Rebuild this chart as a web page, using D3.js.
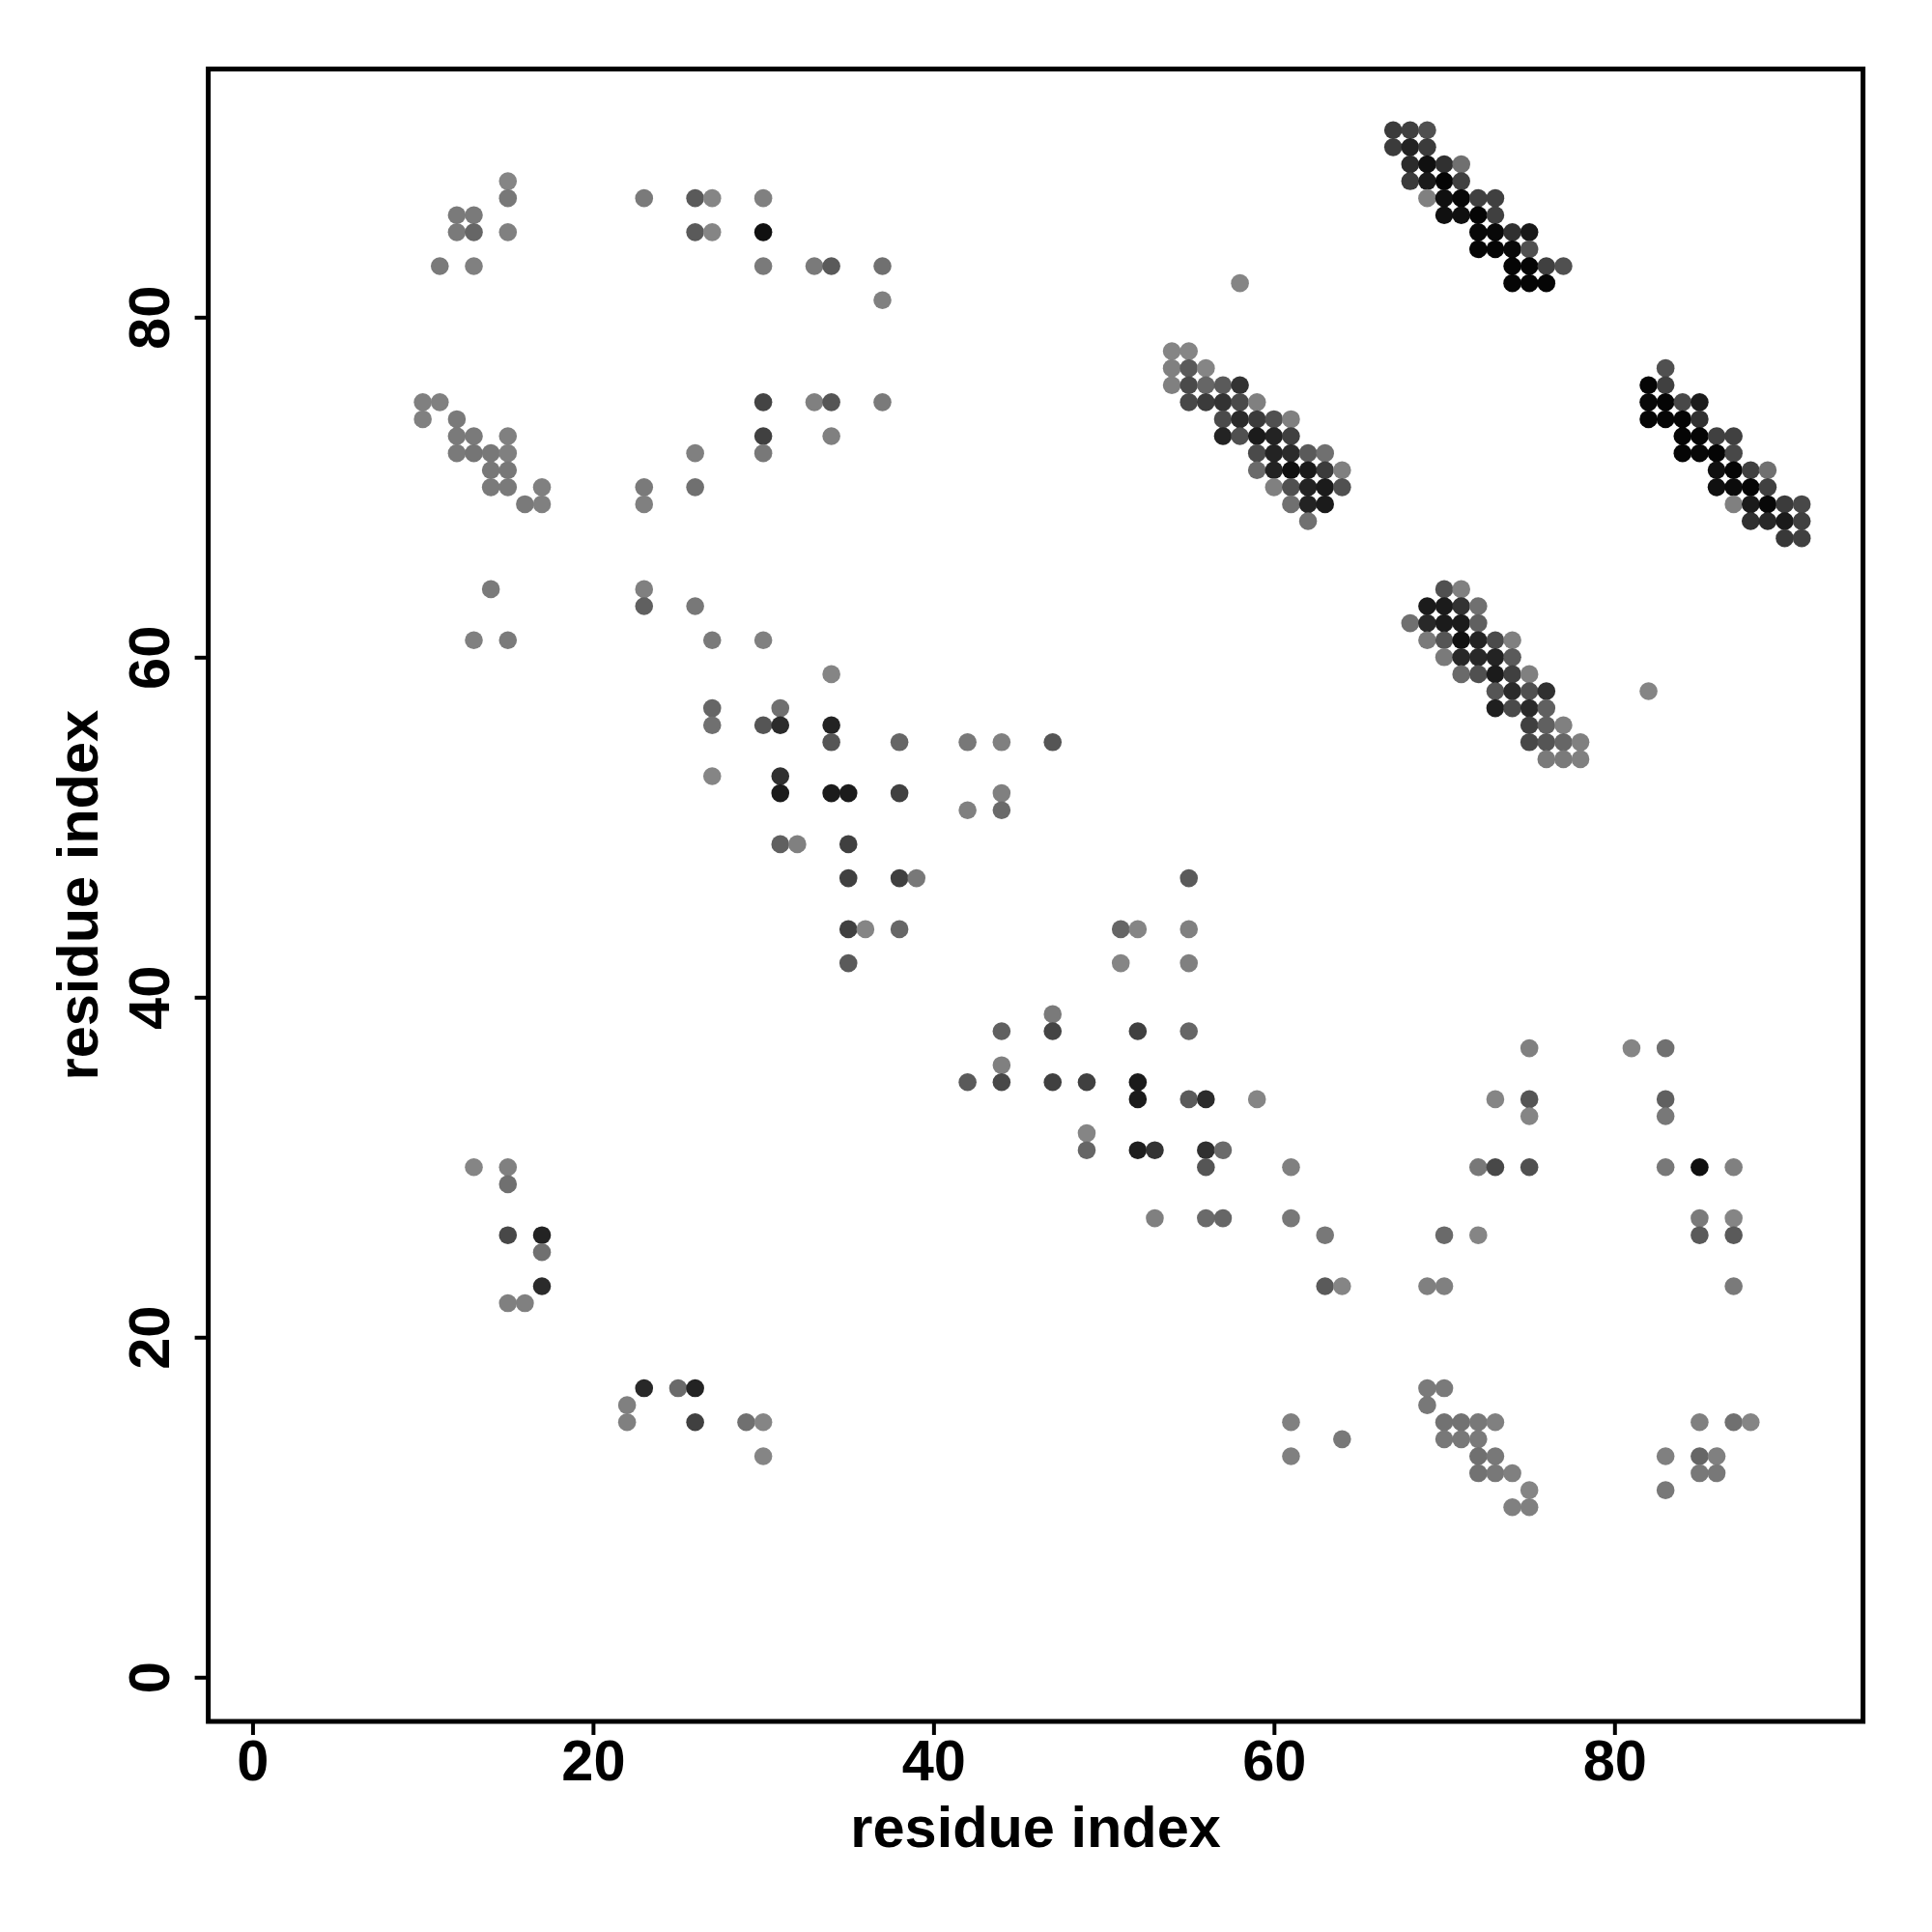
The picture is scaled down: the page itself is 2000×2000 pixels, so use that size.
<!DOCTYPE html>
<html><head><meta charset="utf-8">
<script src="https://cdn.jsdelivr.net/npm/d3@7"></script>
<style>body{margin:0;background:#fff} svg{display:block}</style>
</head><body>
<svg id="chart" width="2000" height="2000"></svg>
<script>
// ---- data: [residue i, residue j, contact strength 0..1] ----
const tickValues = [0, 20, 40, 60, 80];
const xTitle = "residue index";
const yTitle = "residue index";

const topLeftContacts = [
  [15,88,0],[15,87,0.10],[12,86,0.08],[13,86,0.08],[12,85,0.08],[13,85,0.23],[15,85,0.04],[11,83,0.08],[13,83,0.04],
  [23,87,0.08],[26,87,0.32],[27,87,0],[30,87,0.04],[26,85,0.32],[27,85,0],[30,85,0.88],[30,83,0.08],[33,83,0.08],[34,83,0.32],[37,83,0.16],[37,81,0.04],
  [10,75,0.04],[11,75,0.04],[10,74,0.04],[12,74,0.08],[12,73,0.08],[13,73,0.08],[15,73,0.04],[12,72,0.08],[13,72,0.12],[14,72,0.10],[15,72,0.04],
  [14,71,0.10],[15,71,0.10],[14,70,0.08],[15,70,0.08],[17,70,0.04],[16,69,0.08],[17,69,0.04],
  [23,70,0.08],[23,69,0.04],[26,70,0.16],[26,72,0.04],[30,75,0.49],[33,75,0.04],[34,75,0.36],[30,73,0.52],[34,73,0.04],[30,72,0.10],[37,75,0.08],
  [14,64,0.08],[23,64,0.04],[23,63,0.28],[26,63,0.10],[13,61,0.04],[15,61,0.08],[27,61,0.08],[30,61,0.04]
];

const middleContacts = [
  [34,59,0],[27,57,0.23],[27,56,0.16],[31,57,0.16],[30,56,0.36],[31,56,0.68],[34,56,0.74],[34,55,0.36],[27,53,0],[31,53,0.64],[31,52,0.80],
  [34,52,0.80],[35,52,0.80],[38,55,0.23],[42,55,0.10],[44,55,0.04],[47,55,0.36],[38,52,0.52],[44,52,0.04],[42,51,0.04],[44,51,0.20],
  [31,49,0.28],[32,49,0.04],[35,49,0.52],[35,47,0.52],[38,47,0.52],[39,47,0.10],[35,44,0.52],[36,44,0],[38,44,0.23],[35,42,0.32],
  [55,47,0.32],[51,44,0.23],[52,44,0],[55,44,0.04],[51,42,0],[55,42,0.04],
  [47,39,0.08],[44,38,0.28],[47,38,0.49],[52,38,0.52],[55,38,0.23],[44,36,0.04],[42,35,0.32],[44,35,0.46],[47,35,0.52],[49,35,0.52],
  [52,35,0.80],[52,34,0.80],[55,34,0.32],[56,34,0.68],[59,34,0],[49,32,0],[49,31,0.23],[52,31,0.77],[53,31,0.62],[56,31,0.64],[57,31,0.20],
  [56,30,0.36],[61,30,0.04],[53,27,0.04],[56,27,0.20],[57,27,0.23],[61,27,0.10],[63,26,0.10],[63,23,0.32],[64,23,0]
];

const bottomLeftContacts = [
  [13,30,0],[15,30,0.04],[15,29,0.16],[15,26,0.46],[17,26,0.74],[17,25,0.16],[17,23,0.68],[15,22,0.04],[16,22,0.04],
  [23,17,0.70],[25,17,0.20],[26,17,0.74],[22,16,0.04],[22,15,0.04],[26,15,0.52],[29,15,0.16],[30,15,0],[30,13,0]
];

const bottomRightContacts = [
  [61,15,0.04],[61,13,0.04],[64,14,0.10],[69,17,0.08],[70,17,0.08],[69,16,0.10],[70,15,0.14],[71,15,0.14],[72,15,0.10],[73,15,0.04],
  [70,14,0.10],[71,14,0.10],[72,14,0.08],[72,13,0.16],[73,13,0.10],[72,12,0.14],[73,12,0.10],[74,12,0.04],[75,11,0],[74,10,0.04],[75,10,0.04],
  [83,13,0.04],[85,13,0.23],[86,13,0.04],[85,12,0.10],[86,12,0.10],[83,11,0.10],[85,15,0.04],[87,15,0.16],[88,15,0]
];

const rightMiddleContacts = [
  [70,26,0.20],[72,26,0],[69,23,0.04],[70,23,0.04],[85,27,0.08],[87,27,0],[85,26,0.32],[87,26,0.32],[87,23,0.08],
  [75,37,0.04],[81,37,0],[83,37,0.16],[73,34,0],[75,34,0.36],[75,33,0],[83,34,0.28],[83,33,0.10],
  [72,30,0.10],[73,30,0.46],[75,30,0.40],[83,30,0.10],[85,30,0.88],[87,30,0.04],[58,82,0],[82,58,0]
];

const strandPairA = [
  [54,78,0],[55,78,0],[54,77,0.04],[55,77,0.32],[56,77,0],
  [54,76,0.04],[55,76,0.44],[56,76,0.23],[57,76,0.32],[58,76,0.62],
  [55,75,0.46],[56,75,0.56],[57,75,0.62],[58,75,0.44],[59,75,0.04],
  [57,74,0.44],[58,74,0.68],[59,74,0.56],[60,74,0.40],[61,74,0.04],
  [57,73,0.74],[58,73,0.40],[59,73,0.80],[60,73,0.74],[61,73,0.52],
  [59,72,0.44],[60,72,0.74],[61,72,0.68],[62,72,0.32],[63,72,0.16],
  [59,71,0.20],[60,71,0.74],[61,71,0.88],[62,71,0.80],[63,71,0.56],[64,71,0.04],
  [60,70,0.04],[61,70,0.40],[62,70,0.74],[63,70,0.80],[64,70,0.40],
  [61,69,0.16],[62,69,0.74],[63,69,0.80],[62,68,0.16]
];

const strandPairB = [
  [67,91,0.56],[68,91,0.52],[69,91,0.40],
  [67,90,0.56],[68,90,0.74],[69,90,0.56],
  [68,89,0.68],[69,89,0.88],[70,89,0.64],[71,89,0.16],
  [68,88,0.56],[69,88,0.80],[70,88,0.96],[71,88,0.52],
  [69,87,0.04],[70,87,0.88],[71,87,0.94],[72,87,0.52],[73,87,0.52],
  [70,86,0.88],[71,86,0.88],[72,86,0.96],[73,86,0.52],
  [72,85,0.94],[73,85,0.94],[74,85,0.64],[75,85,0.82],
  [72,84,0.96],[73,84,0.96],[74,84,0.94],[75,84,0.40],
  [74,83,0.96],[75,83,0.96],[76,83,0.52],[77,83,0.40],
  [74,82,0.96],[75,82,0.96],[76,82,0.96]
];

const strandPairC = [
  [83,77,0.40],[82,76,0.96],[83,76,0.52],
  [82,75,0.94],[83,75,0.96],[84,75,0.46],[85,75,0.80],
  [82,74,0.96],[83,74,0.96],[84,74,0.96],[85,74,0.64],
  [84,73,0.96],[85,73,0.96],[86,73,0.52],[87,73,0.52],
  [84,72,0.96],[85,72,0.94],[86,72,0.96],[87,72,0.46],
  [86,71,0.88],[87,71,0.96],[88,71,0.52],[89,71,0.16],
  [86,70,0.88],[87,70,0.92],[88,70,0.96],[89,70,0.52],
  [87,69,0.04],[88,69,0.80],[89,69,0.94],[90,69,0.56],[91,69,0.46],
  [88,68,0.64],[89,68,0.70],[90,68,0.80],[91,68,0.52],
  [90,67,0.58],[91,67,0.52]
];

const strandPairD = [
  [70,64,0.40],[71,64,0.04],
  [69,63,0.80],[70,63,0.80],[71,63,0.62],[72,63,0.16],
  [68,62,0.16],[69,62,0.70],[70,62,0.80],[71,62,0.80],[72,62,0.28],
  [69,61,0.08],[70,61,0.36],[71,61,0.88],[72,61,0.74],[73,61,0.44],[74,61,0.04],
  [70,60,0.08],[71,60,0.70],[72,60,0.70],[73,60,0.74],[74,60,0.32],
  [71,59,0.20],[72,59,0.40],[73,59,0.80],[74,59,0.52],[75,59,0.04],
  [73,58,0.36],[74,58,0.68],[75,58,0.40],[76,58,0.64],
  [73,57,0.77],[74,57,0.44],[75,57,0.68],[76,57,0.28],
  [75,56,0.52],[76,56,0.28],[77,56,0.04],
  [75,55,0.46],[76,55,0.36],[77,55,0.23],[78,55,0.04],
  [76,54,0.08],[77,54,0.08],[78,54,0.04]
];

// ---- drawing ----
const contacts = [].concat(topLeftContacts, middleContacts, bottomLeftContacts, bottomRightContacts,
  rightMiddleContacts, strandPairA, strandPairB, strandPairC, strandPairD)
  .map(([i, j, s]) => ({i, j, s}));

const plot = {left: 215.6, right: 1928.6, top: 71.4, bottom: 1782};
const svg = d3.select("#chart");
svg.append("rect").attr("width", 2000).attr("height", 2000).attr("fill", "#fff");

const x = d3.scaleLinear().domain([-2.6, 94.6]).range([plot.left, plot.right]);
const y = d3.scaleLinear().domain([-2.6, 94.6]).range([plot.bottom, plot.top]);
const color = d3.scaleLinear().domain([0, 1]).range(["#858585", "#000000"]);

svg.append("g").selectAll("circle").data(contacts).join("circle")
  .attr("cx", d => x(d.i)).attr("cy", d => y(d.j)).attr("r", 9.3)
  .attr("fill", d => color(d.s));

svg.append("rect")
  .attr("x", plot.left).attr("y", plot.top)
  .attr("width", plot.right - plot.left).attr("height", plot.bottom - plot.top)
  .attr("fill", "none").attr("stroke", "#000").attr("stroke-width", 5);

const font = "'Liberation Sans', Arial, Helvetica, sans-serif";

const gx = svg.append("g").attr("transform", `translate(0,${plot.bottom})`)
  .call(d3.axisBottom(x).tickValues(tickValues).tickSize(14).tickFormat(d3.format("d")));
gx.select(".domain").remove();
gx.selectAll(".tick line").attr("stroke", "#000").attr("stroke-width", 4);
gx.selectAll(".tick text").attr("y", 61).attr("dy", "0")
  .attr("font-family", font).attr("font-weight", "bold").attr("font-size", 59.5).attr("fill", "#000");

const gy = svg.append("g").attr("transform", `translate(${plot.left},0)`)
  .call(d3.axisLeft(y).tickValues(tickValues).tickSize(14).tickFormat(d3.format("d")));
gy.select(".domain").remove();
gy.selectAll(".tick line").attr("stroke", "#000").attr("stroke-width", 4);
gy.selectAll(".tick text").attr("x", null).attr("dy", "0")
  .attr("transform", "translate(-40.6,0) rotate(-90)")
  .attr("text-anchor", "middle")
  .attr("font-family", font).attr("font-weight", "bold").attr("font-size", 59.5).attr("fill", "#000");

svg.append("text").text(xTitle)
  .attr("x", (plot.left + plot.right) / 2).attr("y", 1912)
  .attr("text-anchor", "middle").attr("font-family", font).attr("font-weight", "bold").attr("font-size", 59.5);

svg.append("text").text(yTitle)
  .attr("transform", `translate(101,${(plot.top + plot.bottom) / 2}) rotate(-90)`)
  .attr("text-anchor", "middle").attr("font-family", font).attr("font-weight", "bold").attr("font-size", 59.5);
</script>
</body></html>
